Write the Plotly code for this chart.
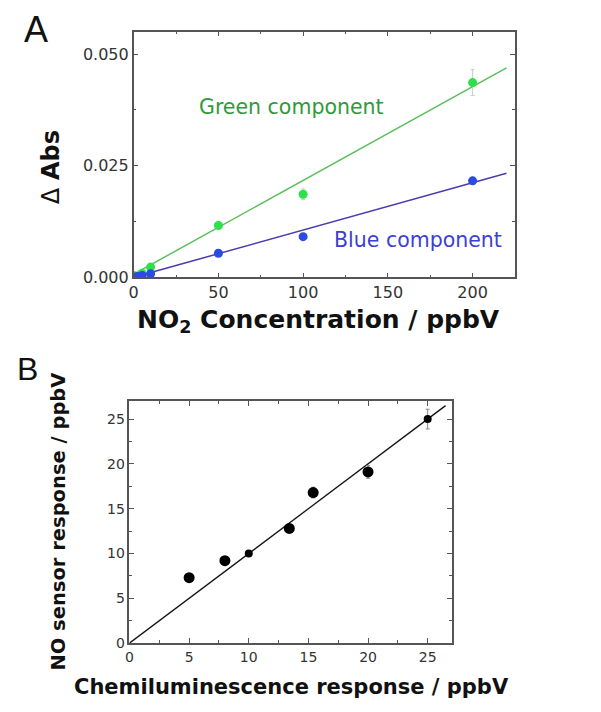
import plotly.graph_objects as go

# ---------------- Panel A data ----------------
green_x = [0, 5, 10, 50, 100, 200]
green_y = [0.0004, 0.0009, 0.0023, 0.0116, 0.0186, 0.0436]
green_err = [0.0002, 0.0003, 0.0005, 0.0006, 0.0012, 0.0029]
blue_x = [0, 2, 5, 10, 50, 100, 200]
blue_y = [0.0000, 0.0002, 0.0004, 0.0008, 0.0054, 0.0091, 0.0216]
blue_err = [0.0002, 0.0002, 0.0002, 0.0003, 0.0003, 0.0004, 0.0005]
green_fit_x = [0, 220]
green_fit_y = [0.0007, 0.0469]
blue_fit_x = [0, 220]
blue_fit_y = [0.0000, 0.0233]

# ---------------- Panel B data ----------------
chem_x = [5, 8, 10, 13.4, 15.4, 20, 25]
sensor_y = [7.3, 9.2, 10.0, 12.8, 16.8, 19.1, 25.0]
sensor_err = [0.3, 0.3, 0.2, 0.4, 0.6, 0.7, 1.1]
fit_b_x = [0, 26.5]
fit_b_y = [0, 26.5]

# page body has an 8px margin; figure placed at (8, 8) and sized to fit the window
OFF = 8
W, H = 601 - 2 * OFF, 712 - 2 * OFF
def px(x): return (x - 3 - OFF) / W
def py(y): return 1 - ((y + 1.6) / 0.987 - OFF) / H

marker_sizes_b = [11, 11, 8, 11, 11, 11, 8]

fig = go.Figure()

# Panel A
fig.add_trace(go.Scatter(x=green_fit_x, y=green_fit_y, mode="lines",
                         line=dict(color="#5cbf5c", width=1.5),
                         xaxis="x", yaxis="y", showlegend=False))
fig.add_trace(go.Scatter(x=blue_fit_x, y=blue_fit_y, mode="lines",
                         line=dict(color="#4a3cb0", width=1.5),
                         xaxis="x", yaxis="y", showlegend=False))
fig.add_trace(go.Scatter(x=green_x, y=green_y, mode="markers",
                         marker=dict(color="#2ee04a", size=9, line=dict(width=0)),
                         error_y=dict(type="data", array=green_err, color="#b8d8b8",
                                      thickness=1, width=2),
                         xaxis="x", yaxis="y", showlegend=False))
fig.add_trace(go.Scatter(x=blue_x, y=blue_y, mode="markers",
                         marker=dict(color="#2a4ae0", size=9, line=dict(width=0)),
                         error_y=dict(type="data", array=blue_err, color="#b0b8e0",
                                      thickness=1, width=2),
                         xaxis="x", yaxis="y", showlegend=False))

# Panel B
fig.add_trace(go.Scatter(x=fit_b_x, y=fit_b_y, mode="lines",
                         line=dict(color="#111111", width=1.3),
                         xaxis="x2", yaxis="y2", showlegend=False))
fig.add_trace(go.Scatter(x=chem_x, y=sensor_y, mode="markers",
                         marker=dict(color="#000000", size=marker_sizes_b, opacity=1,
                                     line=dict(width=0)),
                         error_y=dict(type="data", array=sensor_err, color="#888888",
                                      thickness=1, width=2),
                         xaxis="x2", yaxis="y2", showlegend=False))

axis_common = dict(showline=True, linecolor="#555555", linewidth=1.5, mirror="ticks",
                   ticks="inside", ticklen=5, tickcolor="#555555", tickwidth=1.2,
                   showgrid=False, zeroline=False)
font_a = dict(family="DejaVu Sans", size=16, color="#333333")
font_b = dict(family="DejaVu Sans", size=14, color="#333333")
minor_c = dict(ticks="inside", ticklen=3, tickcolor="#555555")

fig.update_layout(
    width=W, height=H,
    margin=dict(l=0, r=0, t=0, b=0),
    paper_bgcolor="white", plot_bgcolor="white",
    xaxis=dict(domain=[px(132.7), px(517.3)], range=[0, 225], dtick=50, tick0=0,
               minor=dict(dtick=25, **minor_c), tickfont=font_a,
               anchor="y", **axis_common),
    yaxis=dict(domain=[py(276), py(30)], range=[0, 0.055], dtick=0.025, tick0=0,
               tickformat=".3f", minor=dict(dtick=0.0125, **minor_c), tickfont=font_a,
               anchor="x", **axis_common),
    xaxis2=dict(domain=[px(128.5), px(453.3)], range=[0, 27], dtick=5, tick0=0,
                minor=dict(dtick=2.5, **minor_c), tickfont=font_b,
                anchor="y2", **axis_common),
    yaxis2=dict(domain=[py(642.3), py(400)], range=[0, 27], dtick=5, tick0=0,
                minor=dict(dtick=2.5, **minor_c), tickfont=font_b,
                anchor="x2", **axis_common),
)

ann = []
ann.append(dict(text="<b>NO<sub>2</sub> Concentration / ppbV</b>", x=px(319), y=py(320),
                xref="paper", yref="paper", showarrow=False,
                font=dict(family="DejaVu Sans", size=25, color="#111111"),
                xanchor="center", yanchor="middle"))
ann.append(dict(text="Δ <b>Abs</b>", x=px(50), y=py(166), textangle=-90,
                xref="paper", yref="paper", showarrow=False,
                font=dict(family="DejaVu Sans", size=24, color="#111111"),
                xanchor="center", yanchor="middle"))
ann.append(dict(text="<b>Chemiluminescence response / ppbV</b>", x=px(292), y=py(686),
                xref="paper", yref="paper", showarrow=False,
                font=dict(family="DejaVu Sans", size=21, color="#111111"),
                xanchor="center", yanchor="middle"))
ann.append(dict(text="<b>NO sensor response / ppbV</b>", x=px(57), y=py(521), textangle=-90,
                xref="paper", yref="paper", showarrow=False,
                font=dict(family="DejaVu Sans", size=19.5, color="#111111"),
                xanchor="center", yanchor="middle"))
ann.append(dict(text="A", x=px(34), y=py(28), xref="paper", yref="paper", showarrow=False,
                font=dict(family="Liberation Sans", size=36, color="#111111"),
                xanchor="center", yanchor="middle"))
ann.append(dict(text="B", x=px(26), y=py(368), xref="paper", yref="paper", showarrow=False,
                font=dict(family="Liberation Sans", size=32, color="#111111"),
                xanchor="center", yanchor="middle"))
ann.append(dict(text="Green component", x=px(197), y=py(105), xref="paper", yref="paper",
                showarrow=False, font=dict(family="DejaVu Sans", size=20.5, color="#2f9a3a"),
                xanchor="left", yanchor="middle"))
ann.append(dict(text="Blue component", x=px(333), y=py(239), xref="paper", yref="paper",
                showarrow=False, font=dict(family="DejaVu Sans", size=20.5, color="#3c3fd4"),
                xanchor="left", yanchor="middle"))
fig.update_layout(annotations=ann)

fig.write_html("out.html")
